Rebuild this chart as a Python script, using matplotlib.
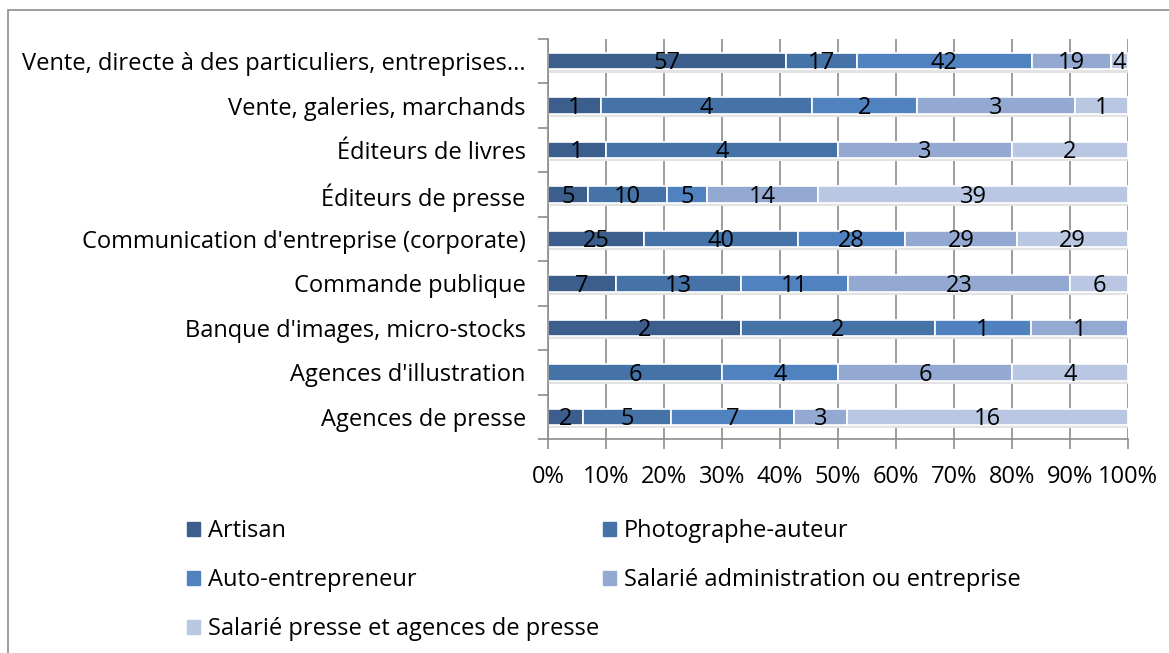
import matplotlib
matplotlib.use("Agg")
import matplotlib.pyplot as plt
import matplotlib.patches as mpatches
import numpy as np

plt.rcParams['font.family'] = ['Open Sans', 'DejaVu Sans']

categories = ["Agences de presse", "Agences d'illustration", "Banque d'images, micro-stocks",
              "Commande publique", "Communication d'entreprise (corporate)", "Éditeurs de presse",
              "Éditeurs de livres", "Vente, galeries, marchands",
              "Vente, directe à des particuliers, entreprises..."]
series = ["Artisan", "Photographe-auteur", "Auto-entrepreneur",
          "Salarié administration ou entreprise", "Salarié presse et agences de presse"]
artisan = [2, 0, 2, 7, 25, 5, 1, 1, 57]
photographe = [5, 6, 2, 13, 40, 10, 4, 4, 17]
auto = [7, 4, 1, 11, 28, 5, 0, 2, 42]
salarie_admin = [3, 6, 1, 23, 29, 14, 3, 3, 19]
salarie_presse = [16, 4, 0, 6, 29, 39, 2, 1, 4]
colors = ['#3b5e8c', '#4573a8', '#4f82be', '#94a9d2', '#b9c7e2']
xticklabels = [f"{p}%" for p in range(0, 101, 10)]

values = np.array([artisan, photographe, auto, salarie_admin, salarie_presse], dtype=float)
totals = values.sum(axis=0)
shares = values / totals * 100

fig = plt.figure(figsize=(11.69, 6.53), dpi=100)
W, H = 1169, 653
ax = fig.add_axes([548 / W, 1 - 439 / H, (1128 - 548) / W, (439 - 39) / H])

# outer frame of the chart
fig.patches.append(mpatches.Rectangle((8 / W, -0.1), 1.2, 1 - 10 / H + 0.1,
                                      transform=fig.transFigure, fill=False,
                                      edgecolor='#8c8c8c', linewidth=1.2))

y = np.arange(len(categories))
bh = 0.37
# soft shadow under the bars
ax.barh(y - 0.07, np.full(len(y), 100.0), height=bh, color='#e3e3e3', zorder=1, linewidth=0)

fs = 17
left = np.zeros(len(categories))
for i, name in enumerate(series):
    bars = ax.barh(y, shares[i], left=left, height=bh, color=colors[i], label=name,
                   edgecolor='white', linewidth=1.2, zorder=2)
    for j, b in enumerate(bars):
        v = values[i][j]
        if v > 0:
            ax.text(left[j] + shares[i][j] / 2, y[j] - 0.05, f"{int(v)}", ha='center', va='center',
                    fontsize=fs, color='black', zorder=3)
    left += shares[i]

ax.set_xlim(0, 100)
ax.set_ylim(-0.5, len(categories) - 0.5)
ax.set_xticks(np.arange(0, 101, 10))
ax.set_xticklabels(xticklabels, fontsize=fs)
ax.set_yticks(y)
ax.set_yticklabels(categories, fontsize=fs)
ax.set_yticks(np.arange(-0.5, len(categories), 1), minor=True)
ax.tick_params(axis='y', which='major', length=0, pad=16)
ax.tick_params(axis='y', which='minor', length=7, color='#8c8c8c', width=1.2)
ax.tick_params(axis='x', which='major', length=7, color='#8c8c8c', width=1.2, pad=12)
ax.grid(axis='x', color='#8c8c8c', linewidth=1.2, zorder=0)
ax.set_axisbelow(True)
for s in ['top', 'right']:
    ax.spines[s].set_visible(False)
for s in ['left', 'bottom']:
    ax.spines[s].set_color('#8c8c8c')
    ax.spines[s].set_linewidth(1.2)

# legend filled row by row: matplotlib fills columns first, so reorder
order = [0, 2, 4, 1, 3]
handles = [mpatches.Patch(color=colors[k], label=series[k]) for k in order]
fig.legend(handles=handles,
           loc='upper left', bbox_to_anchor=(178 / W, 1 - 510 / H), ncol=2, frameon=False,
           fontsize=fs, handlelength=0.55, handleheight=0.55, handletextpad=0.3,
           columnspacing=0.2, labelspacing=1.05, borderaxespad=0)

fig.savefig("out.png", dpi=100)
